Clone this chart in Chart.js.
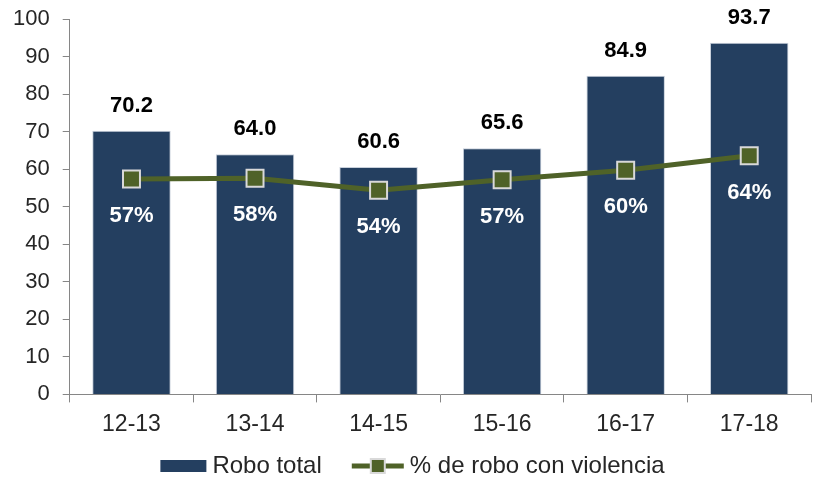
<!DOCTYPE html>
<html>
<head>
<meta charset="utf-8">
<script src="https://cdn.jsdelivr.net/npm/chart.js@4.4.1/dist/chart.umd.min.js"></script>
<style>
  body { margin: 0; background: #fff; }
  #wrap { width: 825px; height: 479px; }
</style>
</head>
<body>
<div id="wrap"><canvas id="myChart" width="825" height="479"></canvas></div>
<script>
// data
const periods = ['12-13', '13-14', '14-15', '15-16', '16-17', '17-18'];
const roboTotal = [70.2, 64.0, 60.6, 65.6, 84.9, 93.7];
const pctViolencia = [57.4, 57.6, 54.4, 57.2, 59.7, 63.6];
const yTicks = [0, 10, 20, 30, 40, 50, 60, 70, 80, 90, 100];

const barColor = '#243F60';
const lineColor = '#4F6228';
const markerBorder = '#D9D9D9';
const fontFam = "'Liberation Sans', Arial, sans-serif";
const textColor = '#262626';

// bar + line value labels
const valueLabels = {
    id: 'valueLabels',
    afterDatasetsDraw(chart) {
        const ctx = chart.ctx;
        ctx.save();
        ctx.textAlign = 'center';
        ctx.textBaseline = 'middle';
        ctx.font = "bold 22px " + fontFam;
        chart.getDatasetMeta(0).data.forEach(function(bar, i) {
            ctx.fillStyle = '#000';
            ctx.fillText(roboTotal[i].toFixed(1), bar.x, bar.y - 25);
        });
        chart.getDatasetMeta(1).data.forEach(function(pt, i) {
            ctx.fillStyle = '#fff';
            ctx.fillText(Math.round(pctViolencia[i]) + '%', pt.x, pt.y + 37);
        });
        ctx.restore();
    }
};

// legend drawn at the bottom (bar box, then line with square marker)
const bottomLegend = {
    id: 'bottomLegend',
    afterDraw(chart) {
        const ctx = chart.ctx;
        const ds = chart.data.datasets;
        const y = 466;
        const gapText = 6, gapItem = 30, boxW = 46, iconW = 52;
        ctx.save();
        ctx.font = '24px ' + fontFam;
        ctx.textBaseline = 'middle';
        const w0 = ctx.measureText(ds[0].label).width;
        const w1 = ctx.measureText(ds[1].label).width;
        const total = boxW + gapText + w0 + gapItem + iconW + gapText + w1;
        let x = (chart.width - total) / 2;
        ctx.fillStyle = barColor;
        ctx.fillRect(x, y - 6, boxW, 12);
        x += boxW + gapText;
        ctx.fillStyle = textColor;
        ctx.fillText(ds[0].label, x, y);
        x += w0 + gapItem;
        ctx.strokeStyle = lineColor;
        ctx.lineWidth = 5;
        ctx.beginPath();
        ctx.moveTo(x, y); ctx.lineTo(x + iconW, y);
        ctx.stroke();
        ctx.fillStyle = lineColor;
        ctx.strokeStyle = markerBorder;
        ctx.lineWidth = 2;
        ctx.fillRect(x + iconW / 2 - 7, y - 7, 14, 14);
        ctx.strokeRect(x + iconW / 2 - 7, y - 7, 14, 14);
        x += iconW + gapText;
        ctx.fillStyle = textColor;
        ctx.fillText(ds[1].label, x, y);
        ctx.restore();
    }
};

var ctx = document.getElementById('myChart').getContext('2d');
var myChart = new Chart(ctx, {
    type: 'bar',
    data: {
        labels: periods,
        datasets: [{
            label: 'Robo total',
            data: roboTotal,
            backgroundColor: barColor,
            borderColor: '#c8d0db',
            borderWidth: 1,
            categoryPercentage: 1,
            barPercentage: 0.635,
            order: 1
        }, {
            type: 'line',
            label: '% de robo con violencia',
            data: pctViolencia,
            borderColor: lineColor,
            borderWidth: 5,
            backgroundColor: lineColor,
            pointStyle: 'rect',
            pointRadius: 12,
            pointBorderColor: markerBorder,
            pointBorderWidth: 2,
            pointBackgroundColor: lineColor,
            tension: 0,
            order: 0
        }]
    },
    options: {
        responsive: false,
        animation: false,
        devicePixelRatio: 1,
        layout: { padding: { top: 19, right: 3, left: 0, bottom: 33 } },
        plugins: {
            tooltip: { enabled: false },
            legend: { display: false }
        },
        scales: {
            x: {
                grid: {
                    offset: true,
                    drawOnChartArea: false,
                    color: '#868686',
                    tickLength: 8
                },
                border: { color: '#868686', width: 1 },
                ticks: {
                    color: textColor,
                    padding: 8,
                    font: { family: fontFam, size: 23 }
                }
            },
            y: {
                min: 0,
                max: 100,
                afterBuildTicks: function(axis) {
                    axis.ticks = yTicks.map(function(v) { return { value: v }; });
                },
                afterFit: function(scale) {
                    scale.paddingTop = 0;
                },
                grid: {
                    drawOnChartArea: false,
                    color: '#868686',
                    tickLength: 7
                },
                border: { color: '#868686', width: 1 },
                ticks: {
                    color: textColor,
                    padding: 13,
                    font: { family: fontFam, size: 22 }
                }
            }
        }
    },
    plugins: [valueLabels, bottomLegend]
});
</script>
</body>
</html>
